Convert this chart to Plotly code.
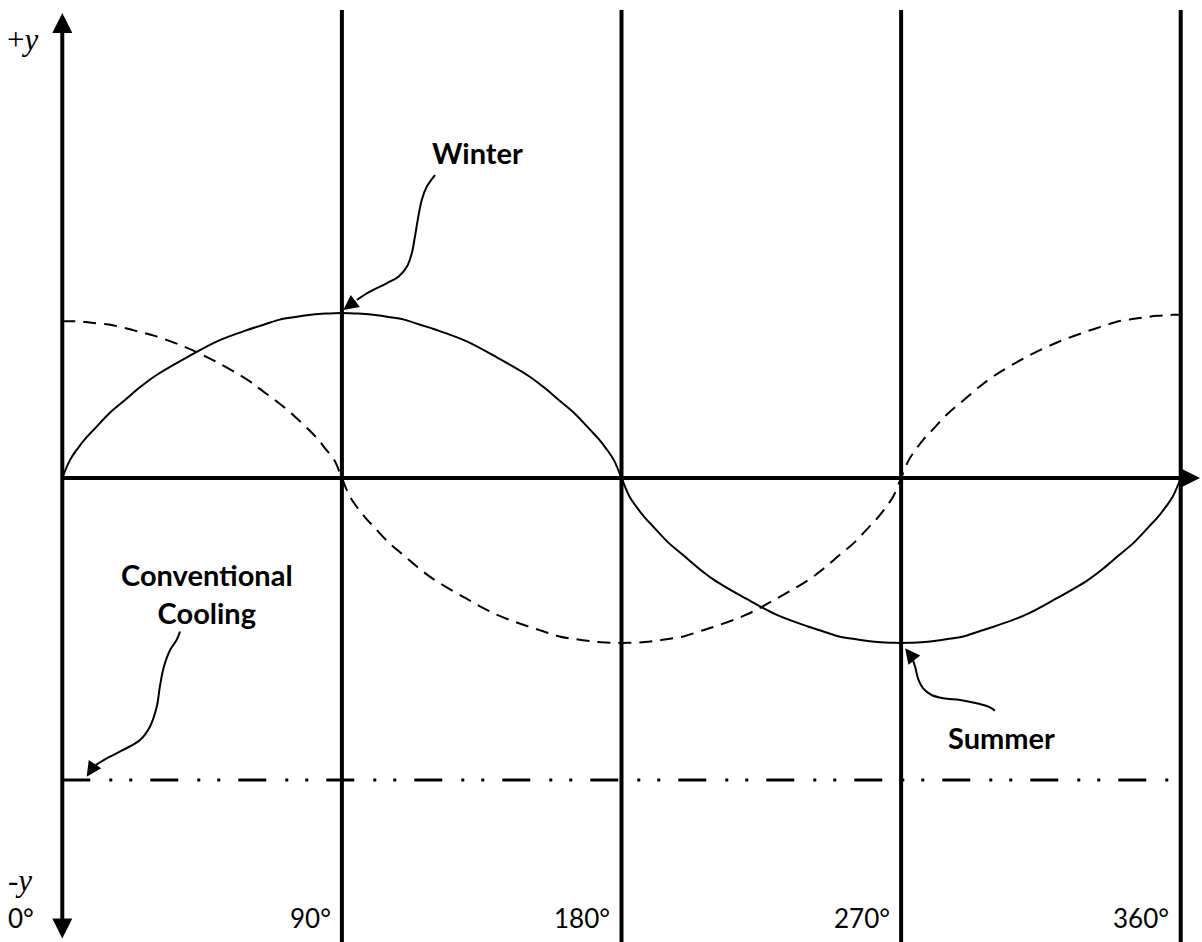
import plotly.graph_objects as go

# ---------------- data (angle in degrees / relative amplitude) ----------------
angles = [0, 2.5, 5, 7.5, 10, 15, 20, 25, 30, 40, 50, 60, 65, 70, 75, 80, 82.5, 85, 87.5,
          90, 92.5, 95, 97.5, 100, 105, 110, 115, 120, 130, 140, 150, 155, 160, 165, 170, 172.5, 175, 177.5,
          180, 182.5, 185, 187.5, 190, 195, 200, 205, 210, 220, 230, 240, 245, 250, 255, 260, 262.5, 265, 267.5,
          270, 272.5, 275, 277.5, 280, 285, 290, 295, 300, 310, 320, 330, 335, 340, 345, 350, 352.5, 355, 357.5,
          360]

winter = [0.0, 0.11, 0.18, 0.24, 0.29, 0.39, 0.47, 0.55, 0.62, 0.73, 0.83, 0.90, 0.93, 0.96, 0.976, 0.989, 0.994, 0.997, 0.999,
          1.0, 0.999, 0.997, 0.994, 0.989, 0.976, 0.96, 0.93, 0.90, 0.83, 0.73, 0.62, 0.55, 0.47, 0.39, 0.29, 0.24, 0.18, 0.11,
          0.0, -0.11, -0.18, -0.24, -0.29, -0.39, -0.47, -0.55, -0.62, -0.73, -0.83, -0.90, -0.93, -0.96, -0.976, -0.989, -0.994, -0.997, -0.999,
          -1.0, -0.999, -0.997, -0.994, -0.989, -0.976, -0.96, -0.93, -0.90, -0.83, -0.73, -0.62, -0.55, -0.47, -0.39, -0.29, -0.24, -0.18, -0.11,
          0.0]

summer = [0.95, 0.95, 0.95, 0.945, 0.94, 0.93, 0.91, 0.885, 0.86, 0.79, 0.70, 0.59, 0.52, 0.45, 0.37, 0.28, 0.23, 0.17, 0.11,
          0.0, -0.11, -0.18, -0.24, -0.29, -0.39, -0.47, -0.55, -0.62, -0.73, -0.83, -0.90, -0.93, -0.96, -0.976, -0.989, -0.994, -0.997, -0.999,
          -1.0, -0.999, -0.997, -0.994, -0.989, -0.976, -0.96, -0.93, -0.90, -0.83, -0.73, -0.62, -0.55, -0.47, -0.39, -0.29, -0.24, -0.18, -0.11,
          0.0, 0.11, 0.18, 0.24, 0.29, 0.39, 0.47, 0.55, 0.62, 0.73, 0.82, 0.89, 0.92, 0.95, 0.965, 0.978, 0.983, 0.986, 0.989,
          0.99]

conventional_cooling = -1.83
cooling_span = [0, 359.4]
tick_angles = [0, 90, 180, 270, 360]
tick_labels = ["0°", "90°", "180°", "270°", "360°"]

# ---------------- annotation geometry (same data units) ----------------
XR = [-20.05, 366.85]
YR = [-2.812, 2.897]
Y_TOP_TIP = 2.818
Y_BOT_TIP = -2.80
X_RIGHT_TIP = 366.2
GRID_TOP = 2.836

callout_paths = {
    "winter": [(119.97, 1.836), (117.3, 1.765), (115.7, 1.685), (114.6, 1.584), (113.5, 1.462),
               (112.5, 1.362), (110.9, 1.280), (108.2, 1.220), (104.4, 1.180), (99.0, 1.129),
               (94.8, 1.079)],
    "summer": [(300.2, -1.410), (298.1, -1.386), (294.3, -1.365), (289.0, -1.345), (283.6, -1.335),
               (279.8, -1.315), (277.1, -1.275), (275.6, -1.224), (274.5, -1.144), (273.4, -1.083)],
    "cooling": [(37.9, -0.93), (36.8, -0.982), (34.7, -1.042), (32.7, -1.144), (31.4, -1.265),
                (30.4, -1.386), (28.2, -1.507), (25.0, -1.588), (19.6, -1.648), (14.3, -1.699),
                (10.0, -1.749)],
}
callout_tips = {"winter": (90.45, 1.018), "summer": (271.3, -1.032), "cooling": (7.85, -1.810)}

FONT = "Lato"
fig = go.Figure()

# vertical lines at 90..360
for a in tick_angles[1:]:
    fig.add_trace(go.Scatter(x=[a, a], y=[GRID_TOP, -3.0], mode="lines",
                             line=dict(color="black", width=4), hoverinfo="skip"))

# winter (solid)
fig.add_trace(go.Scatter(x=angles, y=winter, mode="lines", line_shape="spline",
                         line=dict(color="black", width=2), hoverinfo="skip"))
# summer (dashed)
fig.add_trace(go.Scatter(x=angles, y=summer, mode="lines", line_shape="spline",
                         line=dict(color="black", width=2, dash="13px,8px"), hoverinfo="skip"))
# conventional cooling
fig.add_trace(go.Scatter(x=cooling_span, y=[conventional_cooling] * 2, mode="lines",
                         line=dict(color="black", width=3, dash="28px,19px,3px,17px,3px,18px"),
                         hoverinfo="skip"))

# callout curves with arrowheads
for k, pts in callout_paths.items():
    fig.add_trace(go.Scatter(x=[p[0] for p in pts], y=[p[1] for p in pts], mode="lines",
                             line_shape="spline", line=dict(color="black", width=2),
                             hoverinfo="skip"))
    tx, ty = callout_tips[k]
    fig.add_annotation(x=tx, y=ty, ax=pts[-1][0], ay=pts[-1][1], axref="x", ayref="y",
                       xref="x", yref="y", text="", showarrow=True, arrowhead=2,
                       arrowwidth=2, arrowsize=1.5, arrowcolor="black")

# axis arrows
fig.add_annotation(x=0, y=Y_TOP_TIP, ax=0, ay=Y_BOT_TIP, axref="x", ayref="y", text="",
                   showarrow=True, arrowhead=2, arrowside="end+start", startarrowhead=2,
                   arrowwidth=4, arrowsize=1, startarrowsize=1, arrowcolor="black")
fig.add_annotation(x=X_RIGHT_TIP, y=0, ax=0, ay=0, axref="x", ayref="y", text="",
                   showarrow=True, arrowhead=2, arrowwidth=4, arrowsize=1, arrowcolor="black")

# degree labels
for a, lab in zip(tick_angles, tick_labels):
    if a == 0:
        fig.add_annotation(x=-18.1, y=-2.667, text=lab, showarrow=False, xanchor="left",
                           font=dict(family=FONT, size=26, color="black"))
    else:
        fig.add_annotation(x=a - 3.0, y=-2.667, text=lab, showarrow=False, xanchor="right",
                           font=dict(family=FONT, size=26, color="black"))

# +y / -y
fig.add_annotation(x=-18.6, y=2.66, text="+<i>y</i>", showarrow=False, xanchor="left",
                   font=dict(family="Liberation Serif", size=31, color="black"))
fig.add_annotation(x=-18.1, y=-2.44, text="-<i>y</i>", showarrow=False, xanchor="left",
                   font=dict(family="Liberation Serif", size=31, color="black"))

# series labels
bold = dict(family=FONT, size=29, color="black")
fig.add_annotation(x=133.5, y=1.97, text="<b>Winter</b>", showarrow=False, font=bold)
fig.add_annotation(x=302.2, y=-1.57, text="<b>Summer</b>", showarrow=False, font=bold)
fig.add_annotation(x=46.6, y=-0.70, text="<b>Conventional</b><br><b>Cooling</b>",
                   showarrow=False, font=bold)

fig.update_layout(width=1202, height=942, margin=dict(l=0, r=0, t=0, b=0),
                  paper_bgcolor="white", plot_bgcolor="white",
                  xaxis=dict(range=XR, visible=False, fixedrange=True),
                  yaxis=dict(range=YR, visible=False, fixedrange=True),
                  showlegend=False, hovermode=False)

fig.write_html("out.html", config={"displayModeBar": False},
               post_script="document.body.style.margin='0';")
